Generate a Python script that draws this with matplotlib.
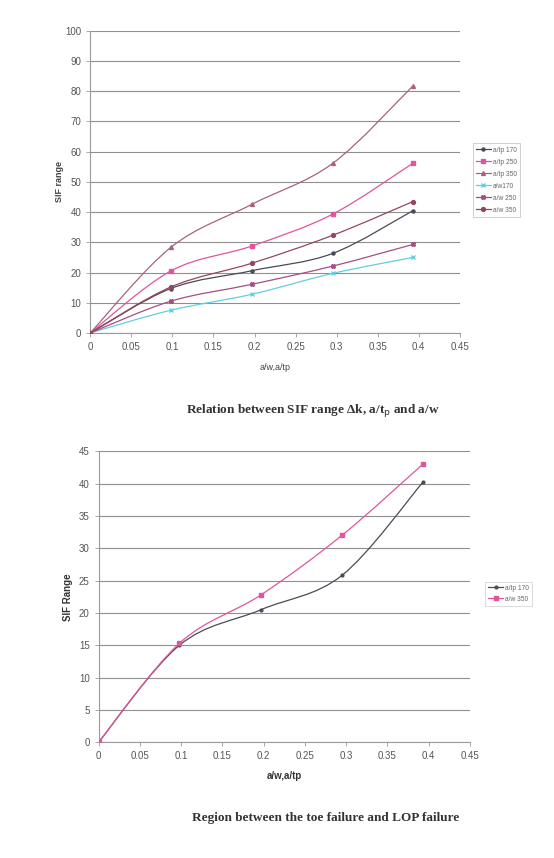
import numpy as np
import matplotlib.pyplot as plt
from matplotlib.path import Path
from matplotlib.patches import PathPatch

plt.rcParams['font.family'] = ['Liberation Sans', 'DejaVu Sans']

# crack depth ratios
x_vals = [0, 0.098, 0.197, 0.295, 0.393]

# top chart series
tp170 = [0, 14.7, 20.6, 26.3, 40.5]
tp250 = [0, 20.5, 28.8, 39.3, 56.2]
tp350 = [0, 28.3, 42.6, 56.1, 81.8]
w170 = [0, 7.5, 12.8, 19.7, 25.0]
w250 = [0, 10.5, 16.1, 22.1, 29.3]
w350 = [0, 15.2, 23.1, 32.3, 43.5]

# bottom chart series
low_tp170 = [0, 15.0, 20.5, 25.8, 40.2]
low_w350 = [0, 15.3, 22.8, 32.0, 43.0]

top_labels = ['a/tp 170', 'a/tp 250', 'a/tp 350', 'a/w170', 'a/w 250', 'a/w 350']
bottom_labels = ['a/tp 170', 'a/w 350']


def smooth_line(ax, xs, ys, color, marker, ms, label):
    # excel style smoothed line: cubic bezier through every point
    xs = np.asarray(xs, float)
    ys = np.asarray(ys, float)
    n = len(xs)
    verts = [(xs[0], ys[0])]
    codes = [Path.MOVETO]
    for i in range(n - 1):
        i0 = max(i - 1, 0)
        i3 = min(i + 2, n - 1)
        c1 = (xs[i] + (xs[i + 1] - xs[i0]) / 6, ys[i] + (ys[i + 1] - ys[i0]) / 6)
        c2 = (xs[i + 1] - (xs[i3] - xs[i]) / 6, ys[i + 1] - (ys[i3] - ys[i]) / 6)
        verts += [c1, c2, (xs[i + 1], ys[i + 1])]
        codes += [Path.CURVE4] * 3
    ax.add_patch(PathPatch(Path(verts, codes), fill=False, edgecolor=color, lw=0.9, zorder=3))
    ax.plot(xs, ys, linestyle='none', marker=marker, ms=ms, color=color, zorder=4)
    # proxy for legend
    ax.plot([], [], color=color, lw=0.9, marker=marker, ms=ms, label=label)


def style_axes(ax, ymax, ystep):
    ax.set_xlim(0, 0.45)
    ax.set_ylim(0, ymax)
    ax.set_xticks(np.arange(0, 0.451, 0.05))
    ax.set_xticklabels(['0', '0.05', '0.1', '0.15', '0.2', '0.25', '0.3', '0.35', '0.4', '0.45'])
    ax.set_yticks(np.arange(0, ymax + 0.1, ystep))
    ax.grid(axis='y', color='#8f8f8f', lw=0.8)
    ax.set_axisbelow(True)
    for s in ['top', 'right']:
        ax.spines[s].set_visible(False)
    for s in ['left', 'bottom']:
        ax.spines[s].set_color('#9a9a9a')
        ax.spines[s].set_linewidth(0.8)
    ax.tick_params(axis='both', labelsize=7, colors='#9a9a9a', labelcolor='#555555',
                   length=3, width=0.6, pad=3.5)


fig = plt.figure(figsize=(5.54, 8.58), dpi=100)

# ---- top chart ----
ax1 = fig.add_axes([0.163, 0.612, 0.667, 0.352])
smooth_line(ax1, x_vals, tp170, '#4a4a58', 'o', 2.2, top_labels[0])
smooth_line(ax1, x_vals, tp250, '#e0559c', 's', 2.8, top_labels[1])
smooth_line(ax1, x_vals, tp350, '#a8627e', '^', 2.8, top_labels[2])
smooth_line(ax1, x_vals, w170, '#62cfe0', 'x', 2.6, top_labels[3])
smooth_line(ax1, x_vals, w250, '#a44f82', 'X', 2.8, top_labels[4])
smooth_line(ax1, x_vals, w350, '#93475f', 'o', 2.8, top_labels[5])
style_axes(ax1, 100, 10)
ax1.set_xlabel('a/w,a/tp', fontsize=6.5, color='#444444', labelpad=8)
ax1.set_ylabel('SIF range', fontsize=6.5, color='#444444', fontweight='bold', labelpad=0.5)
leg1 = ax1.legend(loc='upper left', bbox_to_anchor=(0.847, 0.837), bbox_transform=fig.transFigure,
                  fontsize=4.8, frameon=True, fancybox=False, borderpad=0.5,
                  handlelength=2.2, labelspacing=0.75, handletextpad=0.3)
leg1.get_frame().set_edgecolor('#bbbbbb')
leg1.get_frame().set_linewidth(0.6)
for t in leg1.get_texts():
    t.set_color('#666666')

fig.text(0.565, 0.522, 'Relation between SIF range \u0394k, a/t$_\\mathrm{p}$ and a/w',
         ha='center', va='center', fontsize=9.5, fontweight='bold',
         family=['Liberation Serif', 'DejaVu Serif'], color='#333333')

# ---- bottom chart ----
ax2 = fig.add_axes([0.178, 0.135, 0.67, 0.339])
smooth_line(ax2, x_vals, low_tp170, '#4a4a58', 'o', 2.0, bottom_labels[0])
smooth_line(ax2, x_vals, low_w350, '#e0559c', 's', 2.8, bottom_labels[1])
style_axes(ax2, 45, 5)
ax2.set_xlabel('a/w,a/tp', fontsize=7, color='#333333', fontweight='bold', labelpad=7)
ax2.set_ylabel('SIF Range', fontsize=7, color='#333333', fontweight='bold', labelpad=4)
leg2 = ax2.legend(loc='upper left', bbox_to_anchor=(0.87, 0.326), bbox_transform=fig.transFigure,
                  fontsize=4.8, frameon=True, fancybox=False, borderpad=0.45,
                  handlelength=2.2, labelspacing=0.6, handletextpad=0.3)
leg2.get_frame().set_edgecolor('#cccccc')
leg2.get_frame().set_linewidth(0.6)
for t in leg2.get_texts():
    t.set_color('#666666')

fig.text(0.588, 0.047, 'Region between the toe failure and LOP failure',
         ha='center', va='center', fontsize=9.5, fontweight='bold',
         family=['Liberation Serif', 'DejaVu Serif'], color='#333333')

plt.savefig('out.png', dpi=100)
